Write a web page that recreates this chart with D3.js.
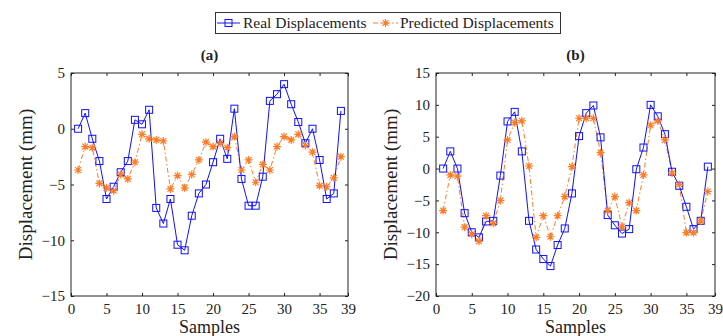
<!DOCTYPE html>
<html>
<head>
<meta charset="utf-8">
<script src="https://cdn.jsdelivr.net/npm/d3@7"></script>
<style>
  body { margin: 0; background: #fff; }
  svg { display: block; }
  text { font-family: "Liberation Serif", "DejaVu Serif", serif; fill: #222; }
</style>
</head>
<body>
<div id="chart"></div>
<script>
// sample index (x axis)
const samples = [1, 2, 3, 4, 5, 6, 7, 8, 9, 10, 11, 12, 13, 14, 15, 16, 17, 18, 19,
  20, 21, 22, 23, 24, 25, 26, 27, 28, 29, 30, 31, 32, 33, 34, 35, 36, 37, 38];
const xTicks = [0, 5, 10, 15, 20, 25, 30, 35, 39];

// panel (a)
const realA = [0, 1.4, -0.9, -2.9, -6.3, -5.2, -3.9, -2.9, 0.8, 0.4, 1.7, -7.1, -8.5, -6.3,
  -10.4, -10.9, -7.8, -5.8, -5.0, -3.0, -0.9, -2.7, 1.8, -4.5, -6.9, -6.9, -4.3, 2.5, 3.1,
  4.0, 2.2, 0.6, -1.3, 0, -2.8, -6.3, -5.8, 1.6];
const predA = [-3.7, -1.6, -1.7, -4.9, -5.3, -5.55, -4.1, -4.5, -3.0, -0.5, -0.9, -1.0, -1.1,
  -5.4, -4.2, -5.3, -4.1, -2.8, -1.2, -1.6, -1.3, -1.7, -0.7, -3.7, -2.8, -4.8, -3.2, -3.7,
  -1.6, -0.7, -1.0, -0.5, -1.5, -2.1, -5.1, -5.2, -4.4, -2.5];
const yTicksA = [-15, -10, -5, 0, 5];

// panel (b)
const realB = [0, 2.7, 0, -7.0, -10.0, -10.8, -8.3, -8.2, -1.1, 7.4, 8.9, 2.7, -8.2, -12.7,
  -14.2, -15.3, -12.0, -9.4, -3.9, 5.1, 8.7, 9.9, 4.9, -7.3, -8.9, -10.2, -9.5, -0.1, 3.3,
  10.0, 8.2, 5.4, -0.5, -2.7, -6.0, -9.5, -8.2, 0.3];
const predB = [-6.6, -1.0, -1.2, -9.2, -10.3, -11.4, -7.4, -8.6, -5.0, 4.5, 7.2, 7.5, 0.4,
  -10.8, -7.4, -10.7, -7.4, -4.4, 0.3, 7.9, 7.9, 7.9, 2.5, -6.6, -4.4, -9.1, -5.35, -6.6,
  -1.0, 6.8, 7.5, 4.5, -0.7, -2.5, -10.05, -10.05, -8.2, -3.6];
const yTicksB = [-20, -15, -10, -5, 0, 5, 10, 15];

const seriesNames = ['Real Displacements', 'Predicted Displacements'];

const W = 723, H = 336;
const BLUE = '#1010ff';
const ORANGE = '#ff7b24';
const starPath = 'M-4,0H4M0,-4V4M-2.9,-2.9L2.9,2.9M-2.9,2.9L2.9,-2.9';

const svg = d3.select('#chart').append('svg')
  .attr('width', W)
  .attr('height', H);

function drawPanel(box, title, real, pred, yTicks) {
  const x = d3.scaleLinear().domain([0, 39]).range([box.left, box.right]);
  const y = d3.scaleLinear().domain([yTicks[0], yTicks[yTicks.length - 1]])
    .range([box.bottom, box.top]);

  const g = svg.append('g');

  // axes (ticks pointing inward, box all round)
  const bottom = g.append('g')
    .attr('transform', `translate(0,${box.bottom})`)
    .call(d3.axisBottom(x).tickValues(xTicks).tickSize(-3).tickSizeOuter(0).tickPadding(7));
  const left = g.append('g')
    .attr('transform', `translate(${box.left},0)`)
    .call(d3.axisLeft(y).tickValues(yTicks).tickSize(-3).tickSizeOuter(0).tickPadding(6));
  g.append('g')
    .attr('transform', `translate(0,${box.top})`)
    .call(d3.axisTop(x).tickValues(xTicks).tickSize(-3).tickSizeOuter(0).tickFormat(''));
  g.append('g')
    .attr('transform', `translate(${box.right},0)`)
    .call(d3.axisRight(y).tickValues(yTicks).tickSize(-3).tickSizeOuter(0).tickFormat(''));

  g.selectAll('.domain').remove();
  g.selectAll('.tick line').attr('stroke', '#222');
  [bottom, left].forEach(a => a.selectAll('text')
    .style('font-size', '15px')
    .style('font-family', '"Liberation Serif", serif')
    .attr('fill', '#222'));

  g.append('rect')
    .attr('x', box.left).attr('y', box.top)
    .attr('width', box.right - box.left).attr('height', box.bottom - box.top)
    .attr('fill', 'none').attr('stroke', '#222').attr('stroke-width', 1);

  // predicted series
  const line = d3.line().x((d, i) => x(samples[i])).y(d => y(d));
  g.append('path')
    .datum(pred)
    .attr('fill', 'none')
    .attr('stroke', ORANGE)
    .attr('stroke-width', 1)
    .attr('stroke-dasharray', '5,2.5,1.5,2.5')
    .attr('d', line);

  // real series
  g.append('path')
    .datum(real)
    .attr('fill', 'none')
    .attr('stroke', BLUE)
    .attr('stroke-width', 1)
    .attr('d', line);

  g.selectAll('.sq')
    .data(real)
    .enter().append('rect')
    .attr('class', 'sq')
    .attr('x', (d, i) => x(samples[i]) - 3.5)
    .attr('y', d => y(d) - 3.5)
    .attr('width', 7).attr('height', 7)
    .attr('fill', 'none')
    .attr('stroke', BLUE)
    .attr('stroke-width', 1);

  g.selectAll('.star')
    .data(pred)
    .enter().append('path')
    .attr('class', 'star')
    .attr('transform', (d, i) => `translate(${x(samples[i])},${y(d)})`)
    .attr('d', starPath)
    .attr('fill', 'none')
    .attr('stroke', ORANGE)
    .attr('stroke-width', 1.2);

  // labels
  const cx = (box.left + box.right) / 2;
  g.append('text')
    .attr('x', cx).attr('y', 60)
    .attr('text-anchor', 'middle')
    .style('font-size', '15px')
    .style('font-weight', 'bold')
    .text(title);
  g.append('text')
    .attr('x', cx).attr('y', 333)
    .attr('text-anchor', 'middle')
    .style('font-size', '18px')
    .attr('fill', '#444')
    .text('Samples');
  g.append('text')
    .attr('transform', `translate(${box.left - 39.5},${(box.top + box.bottom) / 2}) rotate(-90)`)
    .attr('text-anchor', 'middle')
    .style('font-size', '19px')
    .attr('fill', '#444')
    .text('Displacement (mm)');
}

drawPanel({ left: 71, right: 348, top: 73, bottom: 296 }, '(a)', realA, predA, yTicksA);
drawPanel({ left: 436, right: 715, top: 73, bottom: 296 }, '(b)', realB, predB, yTicksB);

// legend
const legend = svg.append('g');
legend.append('rect')
  .attr('x', 215.5).attr('y', 12.5)
  .attr('width', 345).attr('height', 21)
  .attr('fill', '#fff')
  .attr('stroke', '#333')
  .attr('stroke-width', 1);

legend.append('line')
  .attr('x1', 217).attr('x2', 240).attr('y1', 23).attr('y2', 23)
  .attr('stroke', BLUE);
legend.append('rect')
  .attr('x', 225).attr('y', 19.5).attr('width', 7).attr('height', 7)
  .attr('fill', 'none').attr('stroke', BLUE);
legend.append('text')
  .attr('x', 243).attr('y', 28)
  .style('font-size', '15.5px')
  .text(seriesNames[0]);

legend.append('line')
  .attr('x1', 373).attr('x2', 398).attr('y1', 23).attr('y2', 23)
  .attr('stroke', ORANGE)
  .attr('stroke-dasharray', '5,2.5,1.5,2.5');
legend.append('path')
  .attr('transform', 'translate(385.5,23)')
  .attr('d', starPath)
  .attr('fill', 'none')
  .attr('stroke', ORANGE)
  .attr('stroke-width', 1.2);
legend.append('text')
  .attr('x', 400).attr('y', 28)
  .style('font-size', '15.5px')
  .text(seriesNames[1]);
</script>
</body>
</html>
